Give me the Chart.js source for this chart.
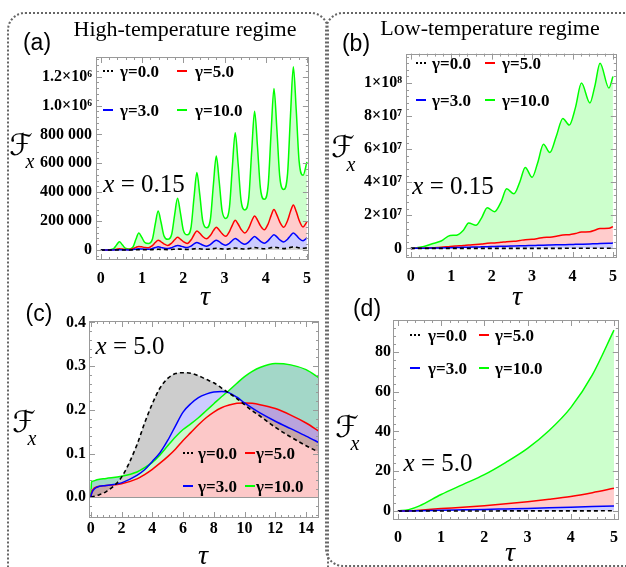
<!DOCTYPE html>
<html>
<head>
<meta charset="utf-8">
<script src="https://cdn.jsdelivr.net/npm/chart.js@4.4.1/dist/chart.umd.min.js"></script>
<style>
body { margin: 0; background: #fff; }
#fig { position: relative; width: 626px; height: 567px; overflow: hidden; font-family: "Liberation Serif", serif; color: #000; }
canvas { position: absolute; }
.box { position: absolute; border: 2px dotted #666; border-radius: 18px; }
.t { position: absolute; white-space: nowrap; line-height: 1; transform: translate(-50%, -50%); }
.ttl { font-size: 22px; }
.pl { font-family: "Liberation Sans", Arial, sans-serif; font-size: 23px; }
.F { font-family: "DejaVu Sans", sans-serif; font-size: 30px; }
.sub { font-style: italic; font-size: 20px; }
.tau { font-style: italic; font-size: 28px; }
.ann { font-size: 25px; }
.lg { position: absolute; font-weight: bold; font-size: 17px; white-space: nowrap; line-height: 1; transform: translateY(-50%); }
.sw { position: absolute; height: 2px; width: 10px; transform: translateY(-50%); }
</style>
</head>
<body>
<div id="fig">
  <div class="box" style="left:7px;top:12px;width:318px;height:575px;"></div>
  <div class="box" style="left:325px;top:12px;width:330px;height:551px;"></div>

  <canvas id="ca" width="320" height="255" style="left:0;top:40px;"></canvas>
  <canvas id="cb" width="300" height="255" style="left:326px;top:40px;"></canvas>
  <canvas id="cc" width="323" height="245" style="left:0;top:300px;"></canvas>
  <canvas id="cd" width="300" height="245" style="left:326px;top:300px;"></canvas>

  <div class="t ttl" style="left:185px;top:29px;">High-temperature regime</div>
  <div class="t ttl" style="left:490px;top:28px;">Low-temperature regime</div>

  <div class="t pl" style="left:37px;top:42px;">(a)</div>
  <div class="t pl" style="left:356px;top:43px;">(b)</div>
  <div class="t pl" style="left:39px;top:313px;">(c)</div>
  <div class="t pl" style="left:367px;top:308px;">(d)</div>

  <div class="t F" style="left:21px;top:145px;">ℱ</div><div class="t sub" style="left:30px;top:161px;">x</div>
  <div class="t F" style="left:343px;top:147px;">ℱ</div><div class="t sub" style="left:351px;top:164px;">x</div>
  <div class="t F" style="left:24px;top:422px;">ℱ</div><div class="t sub" style="left:32px;top:438px;">x</div>
  <div class="t F" style="left:347px;top:427px;">ℱ</div><div class="t sub" style="left:355px;top:443px;">x</div>

  <div class="t tau" style="left:205px;top:296px;">τ</div>
  <div class="t tau" style="left:517px;top:296px;">τ</div>
  <div class="t tau" style="left:203px;top:555px;">τ</div>
  <div class="t tau" style="left:510px;top:552px;">τ</div>

  <div class="t ann" style="left:144px;top:183px;"><i>x</i> = 0.15</div>
  <div class="t ann" style="left:453px;top:185px;"><i>x</i> = 0.15</div>
  <div class="t ann" style="left:130px;top:345px;"><i>x</i> = 5.0</div>
  <div class="t ann" style="left:438px;top:462px;"><i>x</i> = 5.0</div>
</div>

<script>
// legend entries, in the order black, red, blue, green
const legendText = ['γ=0.0', 'γ=5.0', 'γ=3.0', 'γ=10.0'];

// (a) high temperature, x = 0.15  (values in units of 1000)
const tauA = [0, 0.1, 0.2,
  0.31, 0.38, 0.45, 0.52, 0.59, 0.685,
  0.78, 0.85, 0.92, 0.99, 1.06, 1.155,
  1.25, 1.32, 1.39, 1.46, 1.53, 1.625,
  1.72, 1.79, 1.86, 1.93, 2.0, 2.095,
  2.19, 2.26, 2.33, 2.4, 2.47, 2.565,
  2.66, 2.73, 2.8, 2.87, 2.94, 3.03,
  3.12, 3.19, 3.26, 3.33, 3.4, 3.495,
  3.59, 3.66, 3.73, 3.8, 3.87, 3.965,
  4.06, 4.13, 4.2, 4.27, 4.34, 4.435,
  4.53, 4.6, 4.67, 4.74, 4.81, 4.905,
  5.0];
const greenA = [0, 1, 2,
  9, 35, 57, 37, 13.5, 7,
  21, 74, 118, 89, 54.5, 45,
  74, 180, 270, 192, 99.5, 74,
  111, 244, 358, 257, 138, 105,
  161, 364, 536, 383, 204, 154,
  218, 452, 650, 478, 275, 219,
  296, 574, 811, 597, 346, 277,
  366, 687, 961, 717, 430, 351,
  451, 811, 1118, 838, 510, 419,
  529, 928, 1268, 968, 615, 517,
  610];
const redA = [0, 0.2, 0.5,
  2.8, 5.8, 8, 6.5, 4.5, 3,
  9.6, 18.4, 25, 22, 18, 15,
  31, 52, 68, 57, 43, 32,
  49, 71, 88, 75, 58, 45,
  71, 106, 132, 116, 94, 78,
  102, 134, 158, 139, 114, 95,
  128, 173, 206, 180, 144, 118,
  153, 201, 236, 207, 169, 140,
  182, 238, 280, 243, 195, 158,
  204, 266, 312, 266, 206, 160,
  195];
const blueA = [0, 0.1, 0.2,
  0.75, 1.46, 2, 1.7, 1.3, 1,
  3.1, 5.9, 8, 7.1, 5.9, 5,
  10, 17, 22, 18.4, 13.6, 10,
  16.6, 25.4, 32, 27.8, 22.2, 18,
  28, 42, 52, 44.5, 34.5, 27,
  39, 56, 68, 57.5, 43.5, 33,
  47, 66, 80, 68, 52, 40,
  56, 77, 93, 79, 61, 47,
  65, 88, 106, 91, 71, 56,
  75, 99, 118, 102, 80, 64,
  84];
const blackA = [0, 0, 0.1,
  0.3, 0.6, 0.8, 0.7, 0.5, 0.4,
  0.9, 1.5, 2, 1.9, 1.7, 1.5,
  2.5, 4, 5, 4.4, 3.6, 3,
  4.2, 5.8, 7, 6.1, 4.9, 4,
  5.8, 8.2, 10, 8.5, 6.5, 5,
  7.1, 9.9, 12, 10.2, 7.8, 6,
  8.4, 11.6, 14, 11.9, 9.1, 7,
  10, 14, 17, 14.6, 11.4, 9,
  12.3, 16.7, 20, 17, 13, 10,
  13.6, 18.4, 22, 19, 15, 12,
  15];
const yTicksA = [0, 200, 400, 600, 800, 1000, 1200];
const yLabelsA = ['0', '200 000', '400 000', '600 000', '800 000', '1.0×10⁶', '1.2×10⁶'];

// (b) low temperature, x = 0.15  (values in units of 1e7)
const tauB = [0, 0.3, 0.55, 0.75, 0.97, 1.13, 1.3, 1.43, 1.61, 1.75, 1.89, 2.07, 2.23, 2.37, 2.55,
  2.7, 2.83, 3.0, 3.14, 3.28, 3.44, 3.6, 3.76, 3.92, 4.07, 4.22, 4.43, 4.55, 4.68, 4.9, 5.0];
const greenB = [0, 0.1, 0.3, 0.45, 0.78, 0.8, 1.1, 1.54, 1.4, 1.85, 2.46, 2.22, 2.8, 3.6, 3.3,
  4.05, 4.9, 4.3, 5.2, 6.3, 5.8, 6.8, 7.86, 7.46, 8.5, 10.0, 8.8, 9.8, 11.2, 9.7, 10.4];
const redB = [0, 0.01, 0.04, 0.07, 0.12, 0.15, 0.18, 0.21, 0.24, 0.27, 0.31, 0.33, 0.37, 0.41, 0.43,
  0.48, 0.53, 0.55, 0.6, 0.66, 0.68, 0.74, 0.81, 0.83, 0.9, 0.99, 1.01, 1.1, 1.2, 1.22, 1.32];
const blueB = [0, 0.01, 0.02, 0.03, 0.045, 0.055, 0.065, 0.075, 0.085, 0.095, 0.105, 0.115, 0.125, 0.135, 0.145,
  0.155, 0.165, 0.175, 0.185, 0.195, 0.205, 0.215, 0.225, 0.235, 0.245, 0.255, 0.27, 0.28, 0.29, 0.31, 0.32];
const blackB = [0, 0, 0, 0, 0, 0, 0, 0, 0.001, 0.001, 0.001, 0.002, 0.002, 0.002, 0.003,
  0.003, 0.003, 0.004, 0.004, 0.004, 0.005, 0.005, 0.005, 0.006, 0.006, 0.006, 0.007, 0.007, 0.008, 0.008, 0.008];
const yTicksB = [0, 2, 4, 6, 8, 10];
const yLabelsB = ['0', '2×10⁷', '4×10⁷', '6×10⁷', '8×10⁷', '1×10⁸'];

// (c) high temperature, x = 5.0
const tauC = [0, 0.05, 0.15, 0.4, 1, 2, 3, 3.5, 4, 4.5, 5, 5.5, 6, 6.5, 7, 7.5, 8, 8.5, 9, 9.5, 10, 10.5, 11, 12, 13, 14, 14.9];
const blackC = [0, 0.0005, 0.0015, 0.004, 0.013, 0.046, 0.12, 0.17, 0.214, 0.25, 0.272, 0.283, 0.285, 0.284,
  0.278, 0.27, 0.262, 0.25, 0.238, 0.226, 0.212, 0.198, 0.186, 0.16, 0.138, 0.118, 0.102];
const blueC = [0, 0.008, 0.016, 0.023, 0.027, 0.033, 0.05, 0.063, 0.082, 0.102, 0.13, 0.163, 0.195, 0.214,
  0.228, 0.236, 0.241, 0.242, 0.239, 0.229, 0.216, 0.204, 0.193, 0.174, 0.157, 0.14, 0.124];
const redC = [0, 0.01, 0.018, 0.024, 0.027, 0.031, 0.042, 0.052, 0.064, 0.078, 0.093, 0.11, 0.13, 0.148,
  0.166, 0.182, 0.195, 0.205, 0.211, 0.215, 0.216, 0.215, 0.212, 0.203, 0.188, 0.17, 0.15];
const greenC = [0, 0.035, 0.037, 0.04, 0.043, 0.048, 0.058, 0.068, 0.08, 0.097, 0.118, 0.138, 0.155, 0.168,
  0.182, 0.198, 0.214, 0.23, 0.245, 0.261, 0.276, 0.288, 0.297, 0.306, 0.303, 0.292, 0.272];
const xTicksC = [0, 2, 4, 6, 8, 10, 12, 14];
const yTicksC = [0, 0.1, 0.2, 0.3, 0.4];
const yLabelsC = ['0.0', '0.1', '0.2', '0.3', '0.4'];

// (d) low temperature, x = 5.0
const tauD = [0, 0.25, 0.5, 1, 1.5, 2, 2.5, 3, 3.5, 4, 4.5, 5];
const greenD = [0, 0.7, 2.6, 8.3, 13.3, 18.3, 24.5, 31.5, 40.5, 52, 68.5, 91];
const redD = [0, 0.1, 0.4, 1.2, 1.9, 2.7, 3.6, 4.7, 5.9, 7.3, 9.2, 11.4];
const blueD = [0, 0.02, 0.1, 0.4, 0.6, 0.8, 1.05, 1.3, 1.6, 1.9, 2.2, 2.5];
const blackD = [0, 0, 0, 0.01, 0.02, 0.03, 0.04, 0.05, 0.06, 0.07, 0.08, 0.1];
const yTicksD = [0, 20, 40, 60, 80];

const xTicks5 = [0, 1, 2, 3, 4, 5];

const NONE = 'rgba(0,0,0,0)';
const GREY = '#d4d4d4', LAV = '#ccccff', PINK = '#ffcccc', LGREEN = '#ccffcc';

Chart.defaults.font.family = '"Liberation Serif", serif';
Chart.defaults.color = '#000';

// frame with inward major/minor ticks on all four sides, like the original
const frame = {
  id: 'frame',
  afterDraw(chart, args, opts) {
    const {ctx, chartArea: a, scales} = chart;
    ctx.save();
    ctx.strokeStyle = '#999';
    ctx.lineWidth = 1;
    const line = (x1, y1, x2, y2) => { ctx.beginPath(); ctx.moveTo(x1, y1); ctx.lineTo(x2, y2); ctx.stroke(); };
    if (opts.zero) {
      const y0 = Math.round(scales.y.getPixelForValue(0)) + 0.5;
      line(a.left, y0, a.right, y0);
    }
    const marks = (scale, horiz) => {
      const vals = scale.ticks.map(t => t.value);
      const step = vals[1] - vals[0];
      for (let k = -5; k <= vals.length * 5 + 5; k++) {
        const v = vals[0] + k * step / 5;
        if (v < scale.min || v > scale.max) continue;
        const len = k % 5 === 0 ? 6 : 3;
        const p = Math.round(scale.getPixelForValue(v)) + 0.5;
        if (horiz) { line(p, a.bottom, p, a.bottom - len); line(p, a.top, p, a.top + len); }
        else { line(a.left, p, a.left + len, p); line(a.right, p, a.right - len, p); }
      }
    };
    marks(scales.x, true);
    marks(scales.y, false);
    ctx.strokeRect(Math.round(a.left) + 0.5, Math.round(a.top) + 0.5, Math.round(a.width) - 1, Math.round(a.height) - 1);
    ctx.restore();
  }
};

function axis(min, max, ticks, labels, pad, fit) {
  return {
    type: 'linear', min: min, max: max,
    grid: {display: false, drawTicks: false},
    border: {display: false},
    ticks: {
      font: {size: 16, weight: 'bold'}, color: '#000', padding: pad,
      maxRotation: 0, autoSkip: false,
      callback: v => labels ? labels[ticks.indexOf(v)] : String(v)
    },
    afterBuildTicks: s => { s.ticks = ticks.map(v => ({value: v})); },
    afterFit: fit
  };
}

function panel(id, tau, series, p) {
  const pts = arr => tau.map((t, i) => ({x: t, y: arr[i]}));
  const [blk, blu, red, grn] = series;
  const datasets = [
    {data: pts(blk), borderColor: '#000', borderDash: [4, 3], borderWidth: 1.6, fill: p.fills[0]},
    {data: pts(blu), borderColor: '#0000ff', fill: p.fills[1]},
    {data: pts(red), borderColor: '#ff0000', fill: p.fills[2]},
    {data: pts(grn), borderColor: '#00ff00', fill: p.fills[3]}
  ];
  // extra fill-only layers, listed top to bottom
  (p.extra || []).forEach(e => {
    datasets.push({data: pts(series[e.src]), borderColor: NONE, borderWidth: 0, fill: e.fill});
  });
  return new Chart(document.getElementById(id), {
    type: 'line',
    data: {datasets: datasets},
    plugins: [frame],
    options: {
      responsive: false, animation: false, devicePixelRatio: 1,
      layout: {padding: {left: 0, top: p.top, right: p.right, bottom: 0}},
      elements: {point: {radius: 0}, line: {borderWidth: 1.5, cubicInterpolationMode: 'monotone'}},
      plugins: {
        legend: {display: false}, tooltip: {enabled: false},
        filler: {drawTime: 'beforeDatasetsDraw', propagate: false},
        frame: {zero: !!p.zero}
      },
      scales: {
        x: axis(p.x[0], p.x[1], p.xTicks, null, p.xPad, s => { s.height = p.xH; }),
        y: axis(p.y[0], p.y[1], p.yTicks, p.yLabels, p.yPad, s => { s.width = p.yW; })
      }
    }
  });
}

const stackFills = [
  {target: 'origin', above: GREY, below: NONE},
  {target: 0, above: LAV, below: NONE},
  {target: 1, above: PINK, below: NONE},
  {target: 2, above: LGREEN, below: NONE}
];

panel('ca', tauA, [blackA, blueA, redA, greenA], {
  x: [-0.118, 5.047], y: [-69, 1336], xTicks: xTicks5, yTicks: yTicksA, yLabels: yLabelsA,
  top: 17, right: 6, yW: 96, xH: 35, xPad: 9, yPad: 4, fills: stackFills
});

panel('cb', tauB, [blackB, blueB, redB, greenB], {
  x: [-0.12, 5.095], y: [-0.58, 11.78], xTicks: xTicks5, yTicks: yTicksB, yLabels: yLabelsB,
  top: 12, right: 2, yW: 80, xH: 37, xPad: 9, yPad: 4, fills: stackFills
});

panel('cc', tauC, [blackC, blueC, redC, greenC], {
  x: [-0.117, 14.84], y: [-0.0474, 0.4034], xTicks: xTicksC, yTicks: yTicksC, yLabels: yLabelsC,
  top: 21, right: 4, yW: 89, xH: 27, xPad: 1, yPad: 3, zero: true,
  fills: [false, false, false, false],
  extra: [
    {src: 3, fill: {target: 1, above: NONE, below: LAV}},
    {src: 0, fill: {target: 1, above: '#cdcdcd', below: '#c7a6a6'}},
    {src: 1, fill: {target: 2, above: '#cdf7cd', below: '#b9a3dc'}},
    {src: 2, fill: {target: 'origin', above: '#fcc8c8', below: NONE}},
    {src: 3, fill: {target: 0, above: '#a3d7c8', below: NONE}}
  ]
});

panel('cd', tauD, [blackD, blueD, redD, greenD], {
  x: [-0.113, 5.112], y: [-4.53, 96.1], xTicks: xTicks5, yTicks: yTicksD, yLabels: null,
  top: 20, right: 1, yW: 67, xH: 25, xPad: 8, yPad: 2, fills: stackFills
});

// legends inside the frames: [swatch col1, text col1, swatch col2, text col2, row1 y, row2 y]
const legendPos = [
  [103, 120, 177, 195, 71, 110],
  [416, 432, 485, 502, 63, 100],
  [183, 198, 245, 256, 453, 486],
  [410, 428, 479, 495, 335, 368]
];
const legendSwatch = [
  'repeating-linear-gradient(90deg,#000 0 2px,transparent 2px 4px)',
  '#ff0000', '#0000ff', '#00ff00'
];
const fig = document.getElementById('fig');
legendPos.forEach(lp => {
  [[0, 0, 4], [1, 2, 4], [2, 0, 5], [3, 2, 5]].forEach(([k, c, r]) => {
    const sw = document.createElement('div');
    sw.className = 'sw';
    sw.style.left = lp[c] + 'px';
    sw.style.top = lp[r] + 'px';
    sw.style.background = legendSwatch[k];
    fig.appendChild(sw);
    const tx = document.createElement('div');
    tx.className = 'lg';
    tx.style.left = lp[c + 1] + 'px';
    tx.style.top = lp[r] + 'px';
    tx.textContent = legendText[k];
    fig.appendChild(tx);
  });
});
</script>
</body>
</html>
